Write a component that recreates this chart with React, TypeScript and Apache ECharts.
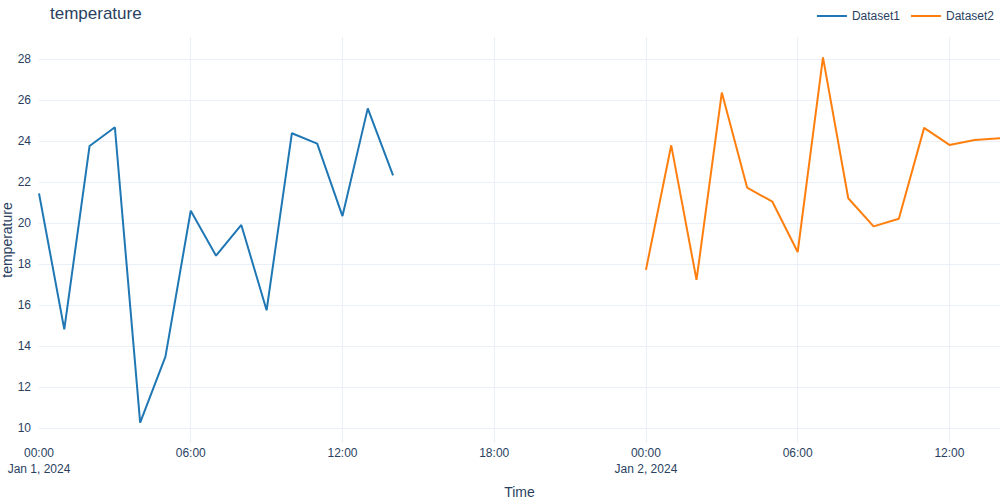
import React, { useEffect, useRef } from "react";
import * as echarts from "echarts";

const HOUR = 3600000;
const START1 = Date.UTC(2024, 0, 1, 0);
const START2 = Date.UTC(2024, 0, 2, 0);

const dataset1Values = [21.45, 14.82, 23.76, 24.67, 10.27, 13.49, 20.6, 18.41, 19.91, 15.75, 24.38, 23.87, 20.34, 25.59, 22.33];
const dataset2Values = [17.72, 23.79, 17.23, 26.36, 21.73, 21.04, 18.59, 28.08, 21.21, 19.84, 20.21, 24.64, 23.81, 24.05, 24.13];
const seriesNames = ["Dataset1", "Dataset2"];
const seriesColors = ["#1f77b4", "#ff7f0e"];
const xTickHours = [0, 6, 12, 18, 24, 30, 36];
const yTickValues = [10, 12, 14, 16, 18, 20, 22, 24, 26, 28];

const MONTHS = ["Jan", "Feb", "Mar", "Apr", "May", "Jun", "Jul", "Aug", "Sep", "Oct", "Nov", "Dec"];
const pad = (n: number) => (n < 10 ? "0" + n : "" + n);

function fmtTime(v: number) {
  const d = new Date(v);
  const hm = pad(d.getUTCHours()) + ":" + pad(d.getUTCMinutes());
  if (d.getUTCHours() === 0 && d.getUTCMinutes() === 0) {
    return hm + "\n" + MONTHS[d.getUTCMonth()] + " " + d.getUTCDate() + ", " + d.getUTCFullYear();
  }
  return hm;
}

const TXT = "#2a3f5f";
const FONT = "'Liberation Sans', Arial, sans-serif";

export default function App() {
  const ref = useRef<HTMLDivElement>(null);
  useEffect(() => {
    document.body.style.margin = "0";
    const chart = echarts.init(ref.current!, null, { renderer: "svg" });
    const d1 = dataset1Values.map((v, i) => [START1 + i * HOUR, v]);
    const d2 = dataset2Values.map((v, i) => [START2 + i * HOUR, v]);
    const xTicks = xTickHours.map((h) => START1 + h * HOUR);
    chart.setOption({
      animation: false,
      backgroundColor: "#ffffff",
      textStyle: { fontFamily: FONT },
      title: {
        text: "temperature",
        left: 45,
        top: 0,
        textStyle: { fontSize: 17, fontWeight: "normal", color: TXT, fontFamily: FONT },
      },
      legend: {
        right: 1,
        top: 5,
        icon: "rect",
        itemWidth: 30,
        itemHeight: 2,
        itemGap: 11,
        textStyle: { fontSize: 12, color: TXT, fontFamily: FONT },
        data: seriesNames,
      },
      grid: { left: 39, right: 0, top: 37, bottom: 57, containLabel: false, outerBoundsMode: "none" },
      xAxis: {
        type: "value",
        min: START1,
        max: START1 + 38 * HOUR,
        name: "Time",
        nameLocation: "middle",
        nameGap: 42,
        nameMoveOverlap: false,
        nameTextStyle: { fontSize: 14, color: TXT, fontFamily: FONT },
        axisLine: { show: false },
        axisTick: { show: false, customValues: xTicks.slice(1) },
        axisLabel: {
          customValues: xTicks,
          formatter: (v: number) => fmtTime(v),
          fontSize: 12,
          color: TXT,
          lineHeight: 16,
          margin: 2,
          fontFamily: FONT,
          hideOverlap: false,
        },
        splitLine: { show: true, lineStyle: { color: "#ebf0f8", width: 1 } },
      },
      yAxis: {
        type: "value",
        min: 9.28,
        max: 29.07,
        name: "temperature",
        nameLocation: "middle",
        nameGap: 25,
        nameMoveOverlap: false,
        nameTextStyle: { fontSize: 14, color: TXT, fontFamily: FONT },
        axisLine: { show: false },
        axisTick: { show: false, customValues: yTickValues },
        axisLabel: { customValues: yTickValues, fontSize: 12, color: TXT, margin: 8, fontFamily: FONT },
        splitLine: { show: true, lineStyle: { color: "#ebf0f8", width: 1 } },
      },
      series: [
        {
          name: seriesNames[0],
          type: "line",
          data: d1,
          showSymbol: false,
          symbol: "none",
          color: seriesColors[0],
          lineStyle: { width: 2, color: seriesColors[0] },
        },
        {
          name: seriesNames[1],
          type: "line",
          data: d2,
          showSymbol: false,
          symbol: "none",
          color: seriesColors[1],
          lineStyle: { width: 2, color: seriesColors[1] },
        },
      ],
    });
    return () => chart.dispose();
  }, []);
  return <div ref={ref} style={{ width: 1000, height: 500 }} />;
}
